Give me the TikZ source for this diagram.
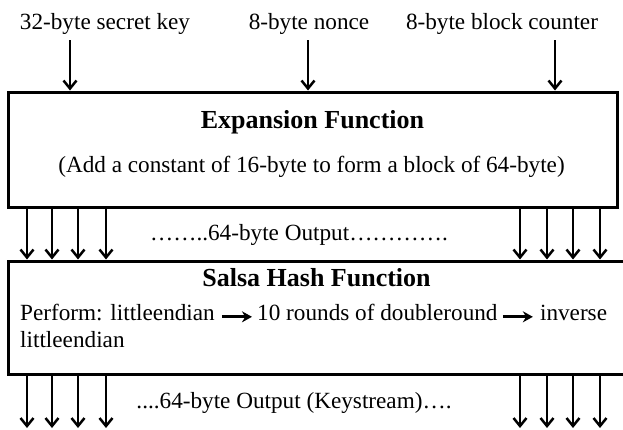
\documentclass[tikz,border=0pt]{standalone}
\usepackage{fontspec}
\setmainfont{Liberation Serif}
\usetikzlibrary{arrows.meta, positioning}
\newcommand{\inarrow}{\tikz[baseline=-0.3ex]\draw[line width=2.8pt, -{Stealth[length=10pt,width=11pt]}] (0pt,0pt) -- (30pt,0pt);}

\begin{document}
\begin{tikzpicture}[x=1pt, y=-1pt,
    flow/.style={line width=2.5pt, -{Straight Barb[length=8pt,width=13pt]}},
    block/.style={draw, line width=3pt, inner sep=0pt},
    txt/.style={font=\fontsize{23.2}{27}\selectfont, inner sep=0pt, anchor=base},
    head/.style={font=\fontsize{26}{30}\selectfont\bfseries, inner sep=0pt, anchor=base}]
  \useasboundingbox (0,0) rectangle (623,429);

  % --- inputs ---
  \node[txt] (key) at (105,29) {32-byte secret key};
  \node[txt] (nonce) at (309,29) {8-byte nonce};
  \node[txt] (counter) at (502,29) {8-byte block counter};
  \coordinate (keyin) at (70,40);
  \coordinate (noncein) at (308,40);
  \coordinate (counterin) at (555,40);

  % --- expansion block ---
  \node[block, minimum width=609pt, minimum height=115pt] (expand) at (312.5,149.5) {};
  \node[head] (exptitle) at (312.5,128) {Expansion Function};
  \node[txt] (expnote) at (311.5,172.5) {(Add a constant of 16-byte to form a block of 64-byte)};

  \draw[flow] (keyin) -- (keyin |- expand.north);
  \draw[flow] (noncein) -- (noncein |- expand.north);
  \draw[flow] (counterin) -- (counterin |- expand.north);

  % --- salsa block ---
  \node[block, minimum width=632pt, minimum height=113pt] (salsa) at (324,317.5) {};
  \node[head] (salsatitle) at (316.5,286) {Salsa Hash Function};
  \node[txt, anchor=base west] (perform) at (20,320)
    {Perform: littleendian \inarrow\,10 rounds of doubleround\,\inarrow\ inverse};
  \node[txt, anchor=base west] (perform2) at (20,347) {littleendian};

  \node[txt] (midout) at (299,240) {\dots\dots..64-byte Output\dots\dots\dots\dots.};
  \foreach \x in {27,52,78,106,520,547,573,600}
    \draw[flow] (expand.south -| \x,0) -- (salsa.north -| \x,0);

  % --- keystream ---
  \coordinate (streamend) at (0,428);
  \node[txt] (stream) at (294,408) {....64-byte Output (Keystream)\dots.};
  \foreach \x in {27,52,78,106,520,547,573,600}
    \draw[flow] (salsa.south -| \x,0) -- (streamend -| \x,0);
\end{tikzpicture}
\end{document}
